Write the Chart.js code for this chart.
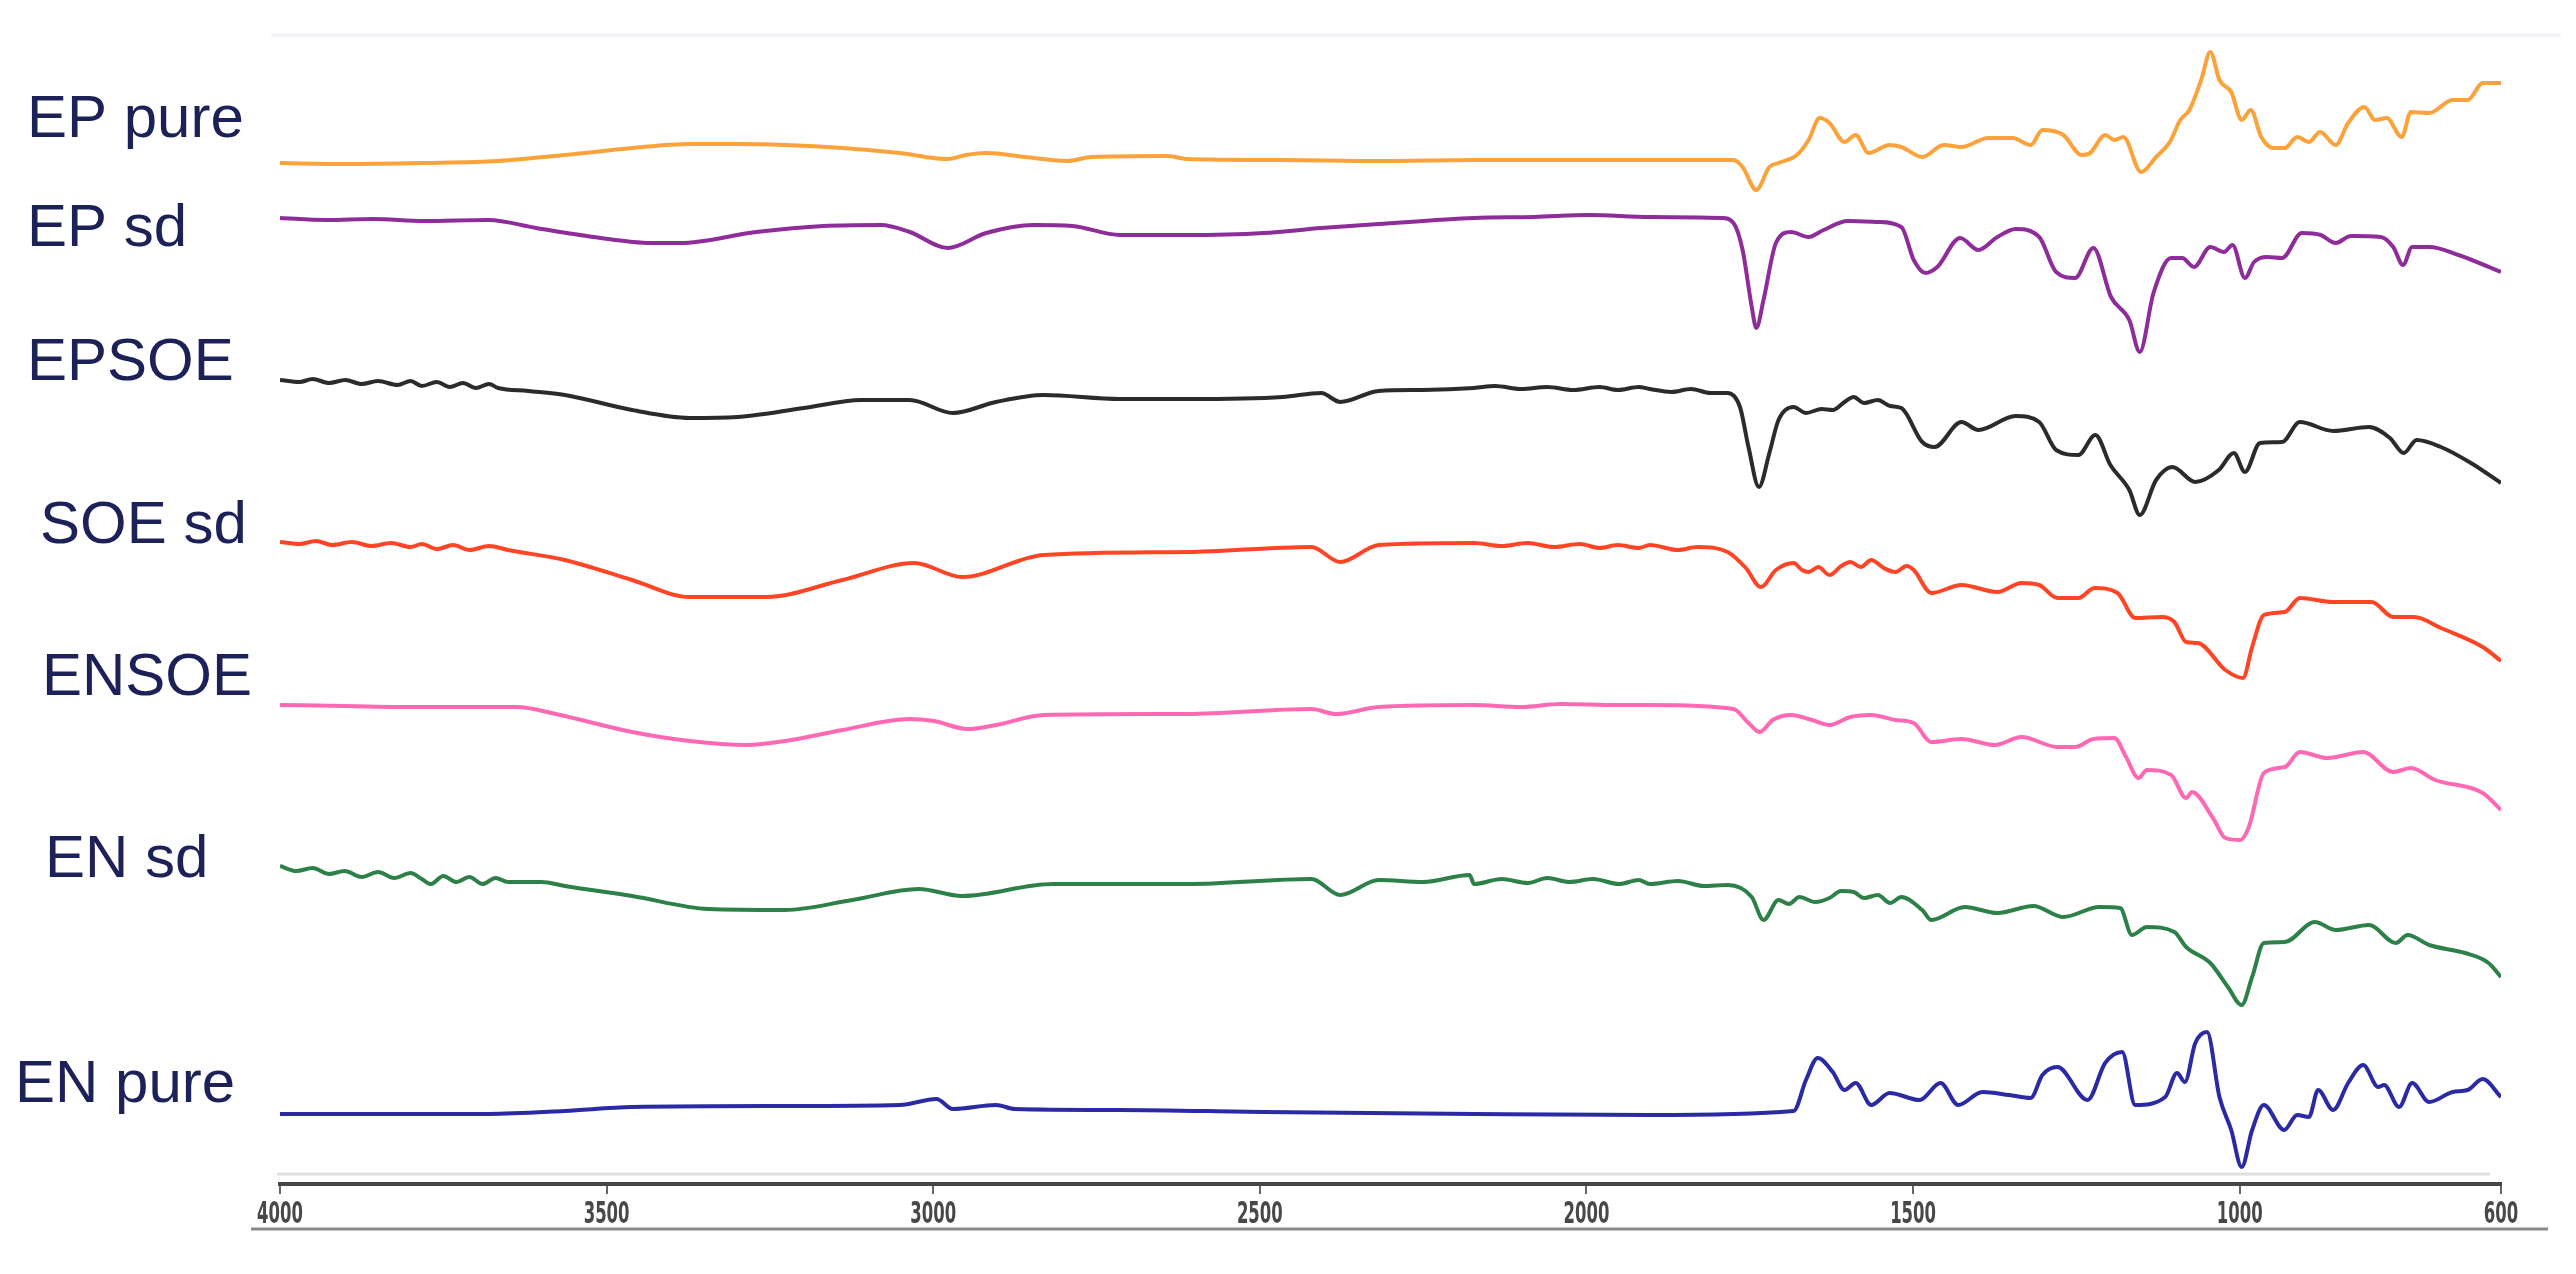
<!DOCTYPE html>
<html>
<head>
<meta charset="utf-8">
<title>Espectros FTIR</title>
<script src="https://cdn.jsdelivr.net/npm/chart.js@4.4.1/dist/chart.umd.min.js"></script>
<style>
  html, body { margin: 0; padding: 0; background: #fff; }
  #wrap { width: 2576px; height: 1274px; position: relative; }
</style>
</head>
<body>
<div id="wrap"><canvas id="grafico"></canvas></div>
<script>
// eixo de numero de onda (cm-1), desenhado invertido
const tickValues = [4000, 3500, 3000, 2500, 2000, 1500, 1000, 600];

const seriesNames = ["EP pure", "EP sd", "EPSOE", "SOE sd", "ENSOE", "EN sd", "EN pure"];
// nivel (mesma unidade dos espectros) onde cada nome fica
const labelLevels = [106.0, 95.1, 81.7, 65.4, 50.2, 32.0, 9.5];

// [numero de onda, sinal empilhado]
const epPure = [[4000,101.7],[3900,101.6],[3783,101.7],[3666,101.9],[3564,102.5],[3461,103.2],[3373,103.6],[3300,103.6],[3227,103.5],[3139,103.2],[3051,102.7],[2978,102.1],[2950,102.5],[2919,102.7],[2860,102.3],[2795,101.9],[2758,102.3],[2641,102.4],[2612,102.1],[2465,102.0],[2318,101.9],[2172,102.0],[2000,102.0],[1903,102.0],[1775,102.0],[1761,101.3],[1740,99.0],[1720,101.3],[1706,101.7],[1678,102.5],[1660,104.0],[1643,106.2],[1628,105.7],[1605,103.8],[1588,104.5],[1568,102.7],[1536,103.5],[1518,103.3],[1486,102.3],[1453,103.5],[1426,103.3],[1385,104.2],[1348,104.2],[1320,103.5],[1302,105.0],[1270,104.5],[1242,102.5],[1229,102.7],[1206,104.5],[1192,104.0],[1178,104.3],[1151,100.8],[1128,102.3],[1107,103.8],[1091,106.0],[1077,107.0],[1059,110.0],[1045,112.8],[1031,110.0],[1013,108.8],[997,106.0],[983,107.0],[967,104.3],[949,103.2],[931,103.2],[912,104.3],[894,103.8],[877,104.8],[853,103.5],[834,105.7],[809,107.3],[793,106.0],[775,106.2],[752,104.3],[738,106.8],[710,106.7],[674,108.0],[651,108.0],[628,109.7],[600,109.7]];

const epSd = [[4000,96.2],[3930,96.0],[3857,96.1],[3780,95.9],[3681,96.0],[3608,95.2],[3520,94.3],[3432,93.7],[3388,93.7],[3271,94.8],[3168,95.4],[3080,95.5],[3036,94.8],[2978,93.2],[2919,94.7],[2846,95.5],[2787,95.4],[2714,94.5],[2612,94.5],[2494,94.7],[2406,95.2],[2318,95.6],[2172,96.2],[2080,96.3],[1996,96.5],[1903,96.3],[1793,96.2],[1775,95.7],[1761,93.0],[1747,87.3],[1740,85.2],[1729,88.0],[1710,93.7],[1687,94.8],[1660,94.3],[1637,95.0],[1600,95.9],[1554,95.8],[1518,95.3],[1499,92.0],[1481,90.7],[1463,91.3],[1428,94.2],[1400,93.0],[1371,94.3],[1343,95.1],[1307,94.3],[1281,90.8],[1252,90.2],[1224,93.2],[1197,88.3],[1169,86.0],[1153,82.8],[1132,88.7],[1105,92.2],[1088,92.2],[1070,91.3],[1045,93.3],[1024,92.8],[1011,93.5],[992,90.2],[978,91.8],[958,92.3],[935,92.2],[905,94.7],[876,94.5],[853,93.7],[830,94.4],[784,94.3],[765,93.3],[750,91.5],[736,93.3],[710,93.3],[665,92.5],[600,90.8]];

const epsoe = [[4000,80.0],[3970,79.8],[3950,80.1],[3925,79.7],[3900,80.0],[3875,79.6],[3850,79.9],[3820,79.5],[3800,79.9],[3783,79.4],[3760,79.8],[3740,79.3],[3720,79.7],[3700,79.2],[3680,79.6],[3666,79.2],[3620,78.9],[3564,78.5],[3461,77.0],[3373,76.2],[3300,76.3],[3198,77.2],[3110,78.0],[3036,78.0],[2970,76.7],[2904,77.8],[2831,78.5],[2714,78.1],[2612,78.1],[2465,78.3],[2406,78.7],[2377,77.8],[2318,78.9],[2250,79.0],[2172,79.2],[2140,79.4],[2100,79.1],[2060,79.3],[2020,79.0],[1980,79.3],[1952,79.0],[1920,79.3],[1903,79.1],[1870,78.8],[1840,79.1],[1810,78.7],[1784,78.7],[1765,77.3],[1752,73.3],[1736,69.3],[1720,72.7],[1706,76.0],[1683,77.3],[1664,76.7],[1640,77.1],[1623,77.0],[1605,77.8],[1591,78.3],[1575,77.7],[1554,78.0],[1535,77.4],[1518,77.2],[1486,73.8],[1467,73.3],[1426,75.8],[1400,75.0],[1343,76.4],[1307,75.8],[1281,73.0],[1247,72.5],[1221,74.5],[1198,71.5],[1169,69.0],[1153,66.5],[1128,70.0],[1103,71.3],[1068,69.8],[1032,71.0],[1009,72.7],[992,70.8],[969,73.7],[935,73.8],[908,75.8],[857,74.9],[802,75.3],[770,74.2],[749,72.7],[729,74.0],[692,73.3],[646,71.7],[600,69.7]];

const soeSd = [[4000,63.8],[3970,63.6],[3945,63.9],[3920,63.5],[3890,63.8],[3860,63.4],[3830,63.7],[3800,63.3],[3783,63.6],[3760,63.1],[3735,63.5],[3710,63.0],[3680,63.4],[3651,63.0],[3564,62.0],[3461,60.0],[3373,58.3],[3256,58.3],[3139,60.0],[3029,61.7],[2956,60.3],[2831,62.5],[2612,62.8],[2421,63.3],[2377,61.8],[2318,63.5],[2172,63.7],[2130,63.4],[2090,63.7],[2050,63.3],[2010,63.6],[1980,63.2],[1952,63.5],[1920,63.2],[1903,63.5],[1860,63.0],[1830,63.3],[1784,62.8],[1756,61.2],[1733,59.3],[1710,61.0],[1683,61.7],[1670,61.0],[1660,60.8],[1645,61.3],[1628,60.5],[1610,61.4],[1596,61.8],[1580,61.3],[1564,62.0],[1545,61.2],[1527,60.8],[1510,61.4],[1499,61.0],[1472,58.7],[1426,59.5],[1371,58.8],[1334,59.7],[1307,59.5],[1279,58.2],[1247,58.2],[1222,59.2],[1187,58.7],[1160,56.2],[1119,56.3],[1100,55.8],[1082,53.8],[1064,53.7],[1022,51.0],[995,50.2],[981,53.3],[963,56.5],[931,56.8],[908,58.2],[857,57.8],[798,57.8],[765,56.3],[733,56.3],[692,55.2],[628,53.3],[600,51.9]];

const ensoe = [[4000,47.5],[3900,47.4],[3783,47.3],[3637,47.3],[3578,46.6],[3461,44.8],[3373,43.9],[3285,43.5],[3227,43.9],[3139,45.0],[3036,46.1],[2999,45.9],[2948,45.1],[2904,45.5],[2831,46.5],[2612,46.6],[2421,47.1],[2384,46.6],[2318,47.3],[2172,47.5],[2100,47.3],[2040,47.6],[1952,47.5],[1903,47.5],[1775,47.1],[1752,45.7],[1735,44.8],[1715,46.0],[1687,46.5],[1655,46.0],[1628,45.5],[1596,46.3],[1564,46.5],[1527,46.0],[1499,45.7],[1472,43.8],[1426,44.1],[1375,43.5],[1334,44.3],[1279,43.3],[1252,43.3],[1224,44.1],[1192,44.2],[1174,42.3],[1155,40.2],[1142,41.0],[1105,40.5],[1082,38.2],[1073,38.8],[1041,36.2],[1022,34.2],[999,34.0],[986,35.3],[963,40.7],[931,41.3],[908,42.8],[866,42.2],[811,42.8],[765,40.8],[738,41.2],[701,40.0],[628,38.7],[600,37.0]];

const enSd = [[4000,31.4],[3975,30.9],[3950,31.2],[3925,30.6],[3901,30.9],[3875,30.3],[3850,30.8],[3825,30.2],[3800,30.7],[3783,30.1],[3769,29.6],[3750,30.4],[3730,29.8],[3710,30.3],[3690,29.6],[3670,30.2],[3651,29.8],[3600,29.8],[3564,29.4],[3461,28.4],[3344,27.1],[3227,27.0],[3124,28.0],[3022,29.1],[2956,28.4],[2817,29.6],[2612,29.6],[2421,30.1],[2377,28.5],[2318,30.0],[2250,29.8],[2179,30.5],[2172,29.6],[2130,30.1],[2090,29.7],[2060,30.2],[2026,29.8],[1990,30.1],[1950,29.6],[1920,30.0],[1903,29.6],[1860,29.9],[1820,29.4],[1784,29.5],[1747,28.3],[1729,26.0],[1706,28.0],[1690,27.6],[1674,28.3],[1650,27.8],[1628,28.2],[1610,28.9],[1591,28.8],[1575,28.2],[1554,28.5],[1535,27.7],[1518,28.3],[1486,27.0],[1472,26.0],[1421,27.3],[1371,26.7],[1316,27.4],[1270,26.3],[1215,27.3],[1183,27.2],[1165,24.5],[1142,25.3],[1100,24.8],[1082,23.3],[1045,21.7],[1018,19.3],[997,17.5],[981,20.3],[963,23.7],[931,23.8],[885,25.8],[853,25.0],[802,25.5],[761,23.7],[743,24.5],[710,23.5],[655,22.7],[619,21.7],[600,20.3]];

const enPure = [[4000,6.6],[3681,6.6],[3564,6.9],[3461,7.3],[3227,7.4],[3051,7.5],[2995,8.1],[2970,7.1],[2904,7.5],[2875,7.1],[2714,7.0],[2494,6.8],[2172,6.6],[1903,6.5],[1683,6.9],[1664,10.0],[1646,12.2],[1623,10.8],[1605,9.0],[1588,9.7],[1564,7.5],[1536,8.7],[1490,8.0],[1458,9.7],[1431,7.5],[1394,8.8],[1353,8.5],[1320,8.2],[1302,10.5],[1279,11.3],[1233,8.0],[1206,11.7],[1180,12.8],[1160,7.5],[1114,8.3],[1096,10.7],[1084,9.8],[1068,13.7],[1050,14.8],[1031,8.3],[1013,5.0],[997,1.3],[981,5.0],[963,7.5],[932,5.0],[912,6.5],[894,6.3],[880,9.0],[857,7.0],[834,9.7],[811,11.5],[788,9.3],[779,9.5],[756,7.3],[736,9.7],[710,7.8],[674,8.8],[651,9.0],[628,10.1],[600,8.3]];

const espectros = [epPure, epSd, epsoe, soeSd, ensoe, enSd, enPure];
const cores = ["#FBA33A", "#8E2C9A", "#2b2b2b", "#FF4526", "#FF69B4", "#2E8049", "#2A2AA5"];
const recuoNomes = [27, 27, 27, 40, 42, 45, 15];

// nomes das amostras a esquerda de cada espectro
const nomesPlugin = {
    id: "nomes",
    afterDraw(chart) {
        const ctx = chart.ctx;
        const escalaY = chart.scales.y;
        ctx.save();
        ctx.font = "60px 'Liberation Sans', Arial, sans-serif";
        ctx.fillStyle = "#1c2158";
        ctx.textBaseline = "middle";
        seriesNames.forEach((nome, i) => {
            ctx.fillText(nome, recuoNomes[i], escalaY.getPixelForValue(labelLevels[i]));
        });
        ctx.restore();
    }
};

// rotulos do eixo x, estreitos como na figura original
const rotulosEixoPlugin = {
    id: "rotulosEixo",
    afterDraw(chart) {
        const ctx = chart.ctx;
        const escalaX = chart.scales.x;
        ctx.save();
        ctx.font = "bold 30px 'DejaVu Sans', sans-serif";
        ctx.fillStyle = "#484848";
        ctx.textAlign = "center";
        ctx.textBaseline = "middle";
        escalaX.ticks.forEach(t => {
            ctx.save();
            ctx.translate(escalaX.getPixelForValue(t.value), escalaX.top + 31);
            ctx.scale(0.55, 1);
            ctx.fillText(String(t.value), 0, 0);
            ctx.restore();
        });
        ctx.restore();
    }
};

// linhas claras que acompanham o eixo na figura original
const molduraPlugin = {
    id: "moldura",
    beforeDatasetsDraw(chart) {
        const { ctx, chartArea, scales: { x } } = chart;
        const linha = (x1, y1, x2, y2, cor) => {
            ctx.strokeStyle = cor;
            ctx.beginPath();
            ctx.moveTo(x1, y1);
            ctx.lineTo(x2, y2);
            ctx.stroke();
        };
        ctx.save();
        ctx.lineWidth = 3;
        linha(x.left - 9, chartArea.top + 5, x.right + 60, chartArea.top + 5, "#f0f2f9");
        linha(x.left - 3, x.top - 10, x.right - 11, x.top - 10, "#e0e0e0");
        linha(x.left - 29, x.top + 45, x.right + 47, x.top + 45, "#8a8a8a");
        ctx.restore();
    }
};

const datasets = espectros.map((serie, i) => ({
    label: seriesNames[i],
    data: serie.map(p => ({ x: p[0], y: p[1] })),
    borderColor: cores[i],
    borderWidth: 4,
    pointRadius: 0,
    cubicInterpolationMode: "monotone",
    fill: false
}));

new Chart(document.getElementById("grafico"), {
    type: "line",
    data: { datasets: datasets },
    options: {
        responsive: true,
        maintainAspectRatio: false,
        animation: false,
        layout: { padding: { left: 280, right: 75, top: 30, bottom: 0 } },
        plugins: { legend: { display: false }, tooltip: { enabled: false } },
        scales: {
            x: {
                type: "linear",
                position: "bottom",
                reverse: true,
                min: 600,
                max: 4000,
                afterBuildTicks: (escala) => {
                    escala.ticks = tickValues.map(v => ({ value: v }));
                },
                afterFit: (escala) => { escala.height = 90; },
                border: { display: true, color: "#454545", width: 4 },
                grid: { display: true, drawOnChartArea: false, drawTicks: true, tickLength: 10, color: "#666", lineWidth: 2 },
                ticks: { display: false, autoSkip: false, maxRotation: 0 }
            },
            y: {
                display: false,
                min: -0.4,
                max: 115
            }
        }
    },
    plugins: [molduraPlugin, nomesPlugin, rotulosEixoPlugin]
});
</script>
</body>
</html>
